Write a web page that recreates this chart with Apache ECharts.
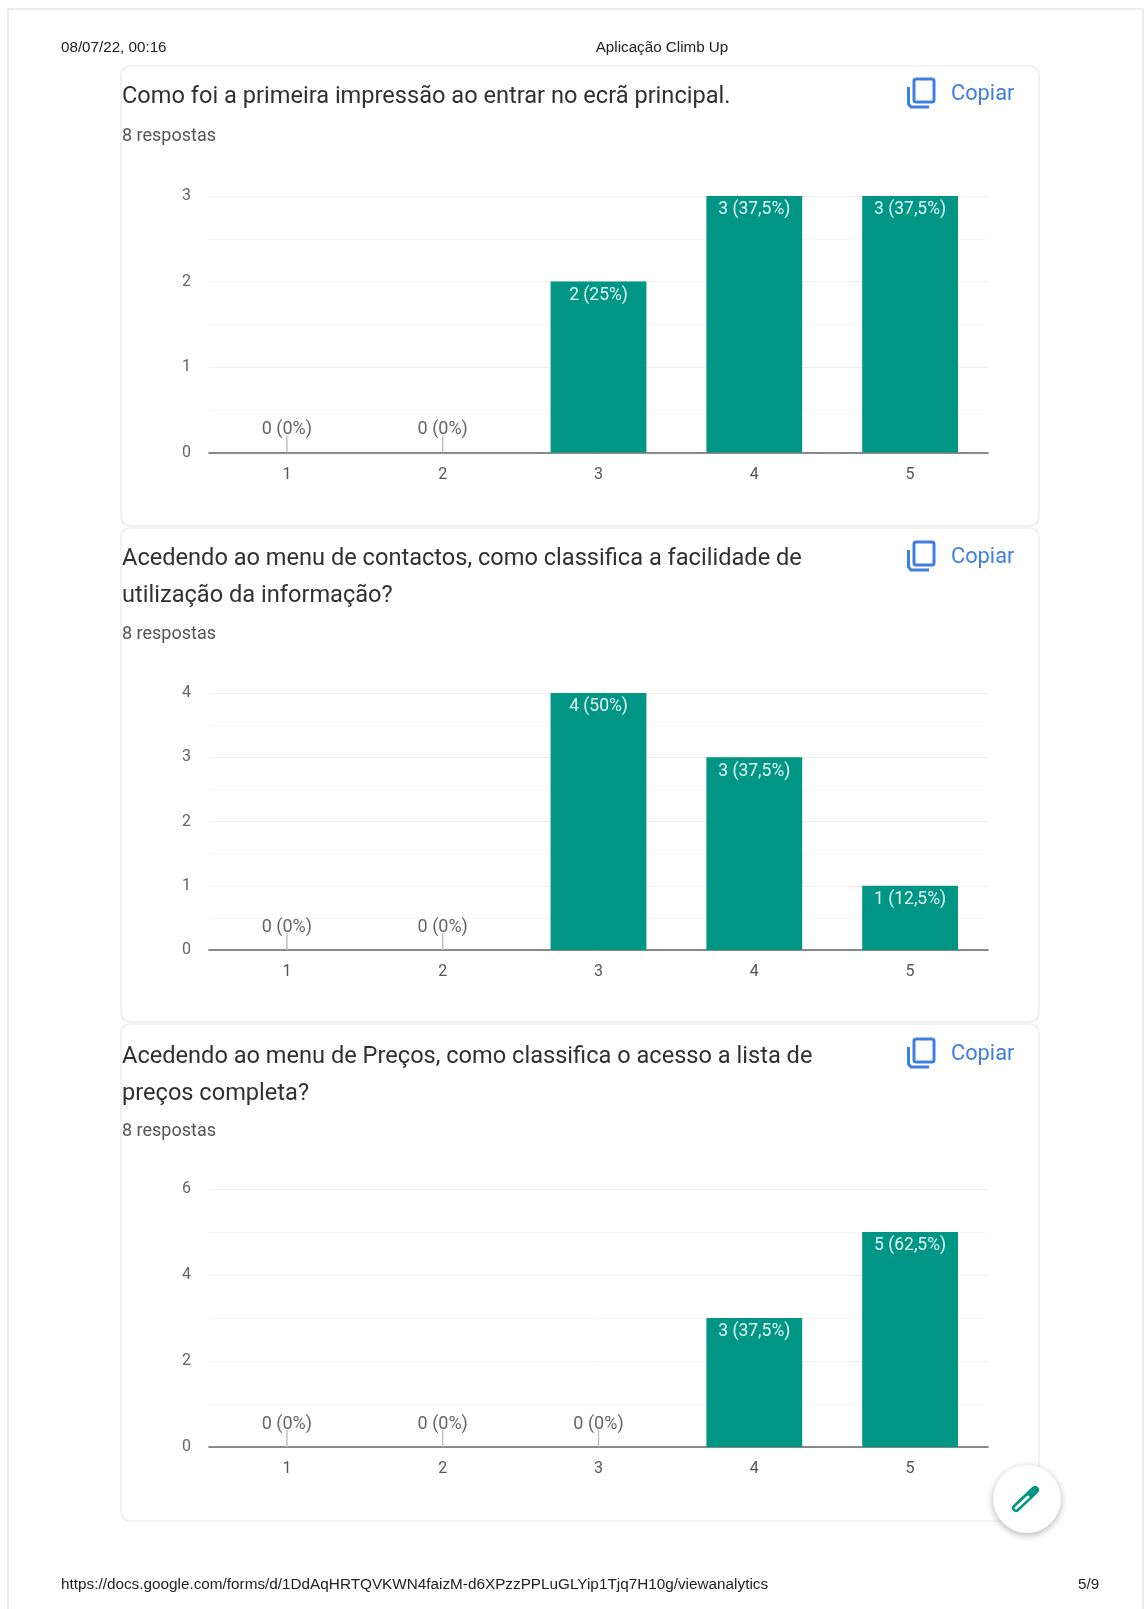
<!DOCTYPE html>
<html><head><meta charset="utf-8">
<style>html,body{margin:0;padding:0;background:#fff}#c{width:1146px;height:1609px}</style>
<script src="https://cdn.jsdelivr.net/npm/echarts@6/dist/echarts.min.js"></script>
</head><body><div id="c"></div>
<script>
const categories = ['1','2','3','4','5'];
const values1 = [0,0,2,3,3];
const labels1 = ['0 (0%)','0 (0%)','2 (25%)','3 (37,5%)','3 (37,5%)'];
const values2 = [0,0,4,3,1];
const labels2 = ['0 (0%)','0 (0%)','4 (50%)','3 (37,5%)','1 (12,5%)'];
const values3 = [0,0,0,3,5];
const labels3 = ['0 (0%)','0 (0%)','0 (0%)','3 (37,5%)','5 (62,5%)'];
const axisMax = [3,4,6];
const axisStep = [1,1,2];
const questions = [
  ['Como foi a primeira impressão ao entrar no ecrã principal.'],
  ['Acedendo ao menu de contactos, como classifica a facilidade de','utilização da informação?'],
  ['Acedendo ao menu de Preços, como classifica o acesso a lista de','preços completa?']
];
const answers = '8 respostas';
const copyLabel = 'Copiar';
const headerLeft = '08/07/22, 00:16';
const headerMid = 'Aplicação Climb Up';
const footerLeft = 'https://docs.google.com/forms/d/1DdAqHRTQVKWN4faizM-d6XPzzPPLuGLYip1Tjq7H10g/viewanalytics';
const footerRight = '5/9';

const BAR = '#009585', GREY = '#666', BLUE = '#3f7fe0';
const series = [[values1,labels1],[values2,labels2],[values3,labels3]];
const grids = [{top:196,bottom:452.5},{top:693,bottom:950},{top:1189,bottom:1447}];
const cards = [{y:66,h:460},{y:528,h:494},{y:1024,h:497}];
const titleYs = [[97],[559,596],[1057,1094]];
const countYs = [136,634,1131];
const copyOff = [0,463,960];

const g = [];
const txt = (x,y,t,font,fill,align) => g.push({type:'text',silent:true,x,y,style:{text:t,font,fill,align:align||'left',verticalAlign:'middle'}});
g.push({type:'polyline',silent:true,shape:{points:[[8,1609],[8,9],[1143,9],[1143,1609]]},style:{stroke:'#d8d8d8',lineWidth:1,fill:null}});
txt(61,48,headerLeft,'15.2px "Liberation Sans"','#222');
txt(662,48,headerMid,'15.2px "Liberation Sans"','#222','center');
txt(61,1585,footerLeft,'15.3px "Liberation Sans"','#222');
txt(1078,1585,footerRight,'15.2px "Liberation Sans"','#222');
cards.forEach((c,i)=>{
  g.push({type:'rect',silent:true,shape:{x:121,y:c.y,width:918,height:c.h,r:9},style:{fill:'none',stroke:'#e8e8e8',lineWidth:1.2}});
  questions[i].forEach((q,j)=>txt(122,titleYs[i][j],q,'23.6px Roboto','#303133'));
  txt(122,countYs[i],answers,'18px Roboto','#555');
  const d = copyOff[i];
  g.push({type:'rect',silent:true,shape:{x:914,y:79+d,width:20,height:23,r:2},style:{fill:'none',stroke:BLUE,lineWidth:3}});
  g.push({type:'polyline',silent:true,shape:{points:[[908.5,87+d],[908.5,104+d],[911,107+d],[929,107+d]]},style:{fill:'none',stroke:BLUE,lineWidth:3}});
  txt(951,95+d,copyLabel,'21.8px Roboto',BLUE);
});
g.push({type:'circle',silent:true,z:100,shape:{cx:1027,cy:1499,r:34},style:{fill:'#fff',shadowBlur:7,shadowOffsetY:2,shadowColor:'rgba(0,0,0,0.3)'}});
g.push({type:'line',silent:true,z:101,shape:{x1:1016,y1:1508,x2:1035,y2:1490},style:{stroke:BAR,lineWidth:8,lineCap:'round'}});
g.push({type:'line',silent:true,z:102,shape:{x1:1016,y1:1508,x2:1028,y2:1497},style:{stroke:'#fff',lineWidth:3,lineCap:'round'}});

const option = {
  animation:false, backgroundColor:'#fff',
  textStyle:{fontFamily:'Roboto'},
  graphic:{elements:g},
  grid:grids.map(p=>({left:209,width:779,top:p.top,height:p.bottom-p.top})),
  xAxis:grids.map((p,i)=>({type:'category',gridIndex:i,data:categories,
    axisTick:{show:false},axisLine:{lineStyle:{color:GREY,width:1.6}},
    axisLabel:{color:'#555',fontSize:16,margin:14,fontFamily:'Roboto'},
    splitLine:{show:false}})),
  yAxis:grids.map((p,i)=>({type:'value',gridIndex:i,min:0,max:axisMax[i],interval:axisStep[i],
    axisLine:{show:false},axisTick:{show:false},minorTick:{show:false,splitNumber:2},
    axisLabel:{color:'#666',fontSize:16,margin:18,padding:[3,0,0,0],fontFamily:'Roboto'},
    splitLine:{show:true,lineStyle:{color:'#eeeeee',width:1}},
    minorSplitLine:{show:true,lineStyle:{color:'#f7f7f7',width:1}}})),
  series:series.flatMap(([vals,labs],i)=>[
    {type:'bar',xAxisIndex:i,yAxisIndex:i,barWidth:'61.5%',itemStyle:{color:BAR},
     data:vals.map((v,k)=>({value:v,label:{show:true,formatter:labs[k],fontFamily:'Roboto',fontSize:v>0?17.5:18,
       position:v>0?'insideTop':'top',distance:v>0?5:14,color:v>0?'#dff5f1':'#666'}}))},
    {type:'custom',xAxisIndex:i,yAxisIndex:i,silent:true,z:3,
     data:vals.map((v,k)=>[k,v]).filter(d=>d[1]===0),encode:{x:0,y:1},
     renderItem:(params,api)=>{const p=api.coord([api.value(0),0]);
       return {type:'line',shape:{x1:p[0],y1:p[1],x2:p[0],y2:p[1]-17},style:{stroke:'#bdbdbd',lineWidth:1.4}};}}
  ])
};
echarts.init(document.getElementById('c'),null,{renderer:'canvas'}).setOption(option);
</script></body></html>
